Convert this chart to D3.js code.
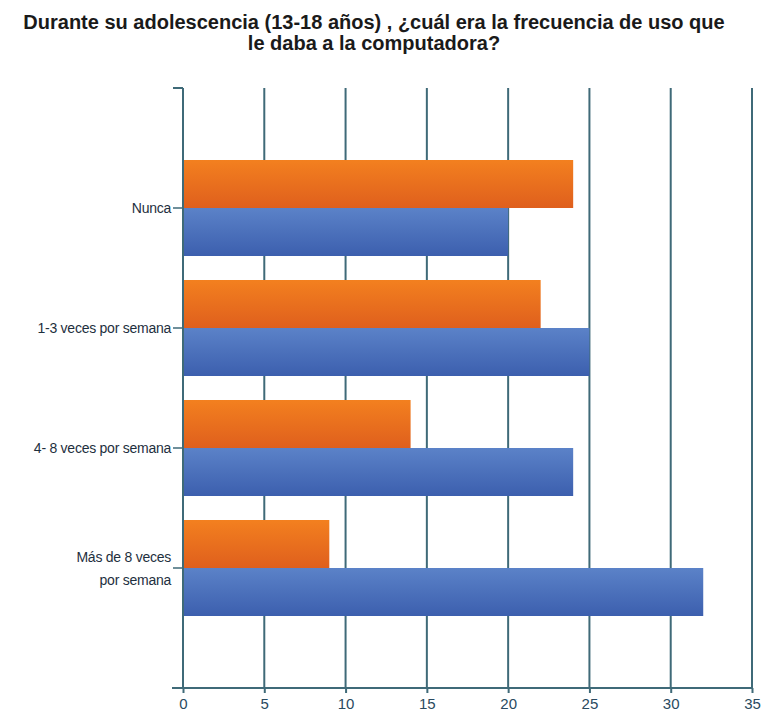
<!DOCTYPE html>
<html>
<head>
<meta charset="utf-8">
<script src="https://cdn.jsdelivr.net/npm/d3@7"></script>
<style>
  html, body { margin: 0; padding: 0; background: #ffffff; }
  svg { display: block; }
</style>
</head>
<body>
<div id="chart"></div>
<script>
// Survey answers: computer usage frequency during adolescence
const categories = ["Nunca", "1-3 veces por semana", "4- 8 veces por semana", "Más de 8 veces por semana"];
const categoryLines = [["Nunca"], ["1-3 veces por semana"], ["4- 8 veces por semana"], ["Más de 8 veces", "por semana"]];
const seriesNames = ["serieA", "serieB"];
const orangeValues = [24, 22, 14, 9];
const blueValues = [20, 25, 24, 32];
const xTicks = [0, 5, 10, 15, 20, 25, 30, 35];
const titleLines = ["Durante su adolescencia (13-18 años) , ¿cuál era la frecuencia de uso que", "le daba a la computadora?"];

const width = 766, height = 717;
const margin = { top: 88, right: 14, bottom: 29, left: 183 };
const plotW = width - margin.left - margin.right;
const plotH = height - margin.top - margin.bottom;

const svg = d3.select("#chart").append("svg")
  .attr("width", width).attr("height", height);

const defs = svg.append("defs");
function grad(id, top, bottom) {
  const g = defs.append("linearGradient").attr("id", id)
    .attr("x1", 0).attr("y1", 0).attr("x2", 0).attr("y2", 1);
  g.append("stop").attr("offset", "0%").attr("stop-color", top);
  g.append("stop").attr("offset", "100%").attr("stop-color", bottom);
}
grad("gOrange", "#f3801f", "#df5f1d");
grad("gBlue", "#5b82c8", "#3c5fae");

// Title
svg.append("g").selectAll("text").data(titleLines).join("text")
  .attr("x", 374).attr("y", (d, i) => 29 + i * 21)
  .attr("text-anchor", "middle")
  .attr("font-family", "Liberation Sans, Arial, sans-serif")
  .attr("font-weight", "bold").attr("font-size", 20)
  .attr("fill", "#1a1a1a")
  .text(d => d);

const g = svg.append("g").attr("transform", `translate(${margin.left},${margin.top})`);

const x = d3.scaleLinear().domain([0, 35]).range([0, plotW]);
const y = d3.scaleBand().domain(categories).range([0, plotH]).paddingInner(0.2).paddingOuter(0.6);
const ySub = d3.scaleBand().domain(seriesNames).range([0, y.bandwidth()]);

const gridColor = "#3f6a78";

// Vertical grid lines
g.append("g").selectAll("line").data(xTicks.slice(1)).join("line")
  .attr("x1", d => x(d)).attr("x2", d => x(d))
  .attr("y1", 0).attr("y2", plotH)
  .attr("stroke", gridColor).attr("stroke-width", 2);

// Bars
const rows = categories.map((c, i) => ({ c, vals: [orangeValues[i], blueValues[i]] }));
const grp = g.append("g").selectAll("g").data(rows).join("g")
  .attr("transform", d => `translate(0,${y(d.c)})`);
grp.selectAll("rect").data(d => d.vals.map((v, j) => ({ v, s: seriesNames[j] }))).join("rect")
  .attr("x", 0)
  .attr("y", d => ySub(d.s))
  .attr("width", d => x(d.v))
  .attr("height", ySub.bandwidth())
  .attr("fill", d => d.s === "serieA" ? "url(#gOrange)" : "url(#gBlue)");

// Left axis
const yAxis = g.append("g").call(d3.axisLeft(y).tickSize(10).tickFormat(""));
yAxis.select(".domain").remove();
yAxis.selectAll(".tick line").attr("stroke", gridColor).attr("stroke-width", 1.5);
g.append("line").attr("x1", 0).attr("x2", 0).attr("y1", 0).attr("y2", plotH)
  .attr("stroke", gridColor).attr("stroke-width", 2);
g.append("line").attr("x1", -10).attr("x2", 0).attr("y1", 0).attr("y2", 0)
  .attr("stroke", gridColor).attr("stroke-width", 2);

// Category labels
const lab = g.append("g").selectAll("text").data(categories).join("text")
  .attr("text-anchor", "end")
  .attr("font-family", "Liberation Sans, Arial, sans-serif")
  .attr("font-size", 14).attr("fill", "#1e2f3e")
  .attr("letter-spacing", -0.25);
lab.each(function(d, i) {
  const lines = categoryLines[i];
  const cy = y(d) + y.bandwidth() / 2;
  const t = d3.select(this);
  lines.forEach((ln, k) => {
    t.append("tspan").attr("x", -12)
      .attr("y", cy + 5 + (k - (lines.length - 1) / 2) * 23)
      .text(ln);
  });
});

// Bottom axis
const xAxis = g.append("g").attr("transform", `translate(0,${plotH})`)
  .call(d3.axisBottom(x).tickValues(xTicks).tickSize(5).tickPadding(5));
xAxis.select(".domain").remove();
g.append("line").attr("x1", -11).attr("x2", plotW).attr("y1", plotH).attr("y2", plotH)
  .attr("stroke", gridColor).attr("stroke-width", 2);
xAxis.selectAll(".tick line").attr("stroke", gridColor).attr("stroke-width", 2);
xAxis.selectAll(".tick text")
  .attr("font-family", "Liberation Sans, Arial, sans-serif")
  .attr("font-size", 15).attr("fill", "#2a4a60");
</script>
</body>
</html>
